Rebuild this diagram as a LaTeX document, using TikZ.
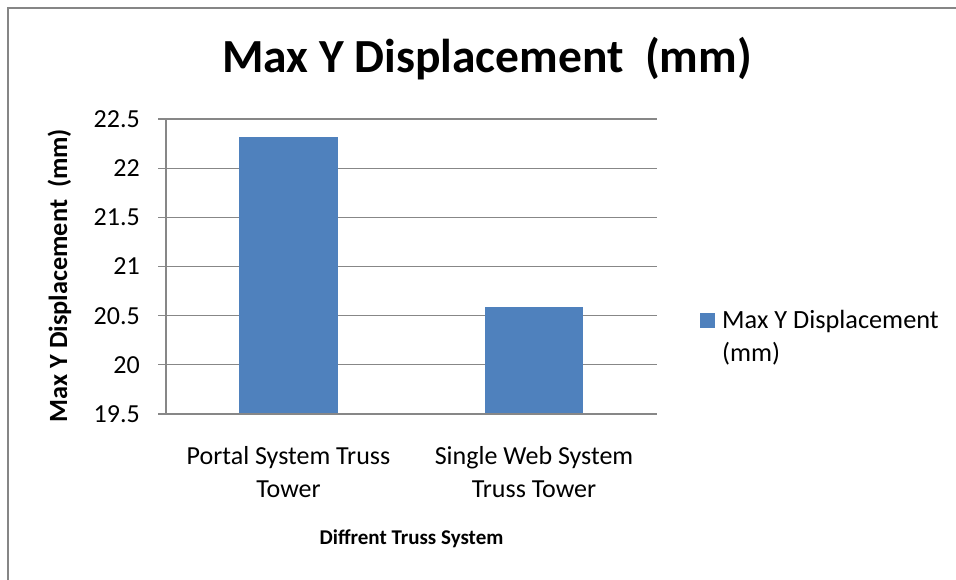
\documentclass[tikz,border=0pt]{standalone}
\usepackage{fontspec}
\setmainfont{Carlito}
\definecolor{barblue}{HTML}{4F81BD}
\definecolor{gridgray}{HTML}{878787}
\definecolor{framegray}{HTML}{868686}
\tikzset{
  gridline/.style={draw=gridgray, line width=1.3pt},
  framestyle/.style={draw=framegray, line width=1.5pt},
  barstyle/.style={fill=barblue, draw=none},
  ticklabel/.style={inner sep=0pt, font=\fontsize{26}{31}\selectfont},
  catlabel/.style={inner sep=0pt, anchor=base, font=\fontsize{26}{31}\selectfont},
  titlestyle/.style={inner sep=0pt, anchor=base, font=\fontsize{47.5}{57}\selectfont\bfseries},
  ytitle/.style={inner sep=0pt, anchor=base, rotate=90, font=\fontsize{26.3}{31}\selectfont\bfseries},
  xtitle/.style={inner sep=0pt, anchor=base, font=\fontsize{21}{25}\selectfont\bfseries},
  legendtext/.style={inner sep=0pt, anchor=base west, font=\fontsize{26.3}{31}\selectfont}
}
\begin{document}
\begin{tikzpicture}[x=1pt,y=-1pt]
\useasboundingbox (0,0) rectangle (956,580);
% outer chart frame (extends beyond the picture at right and bottom)
\draw[framestyle] (8,600) -- (8,8) -- (980,8);
% gridlines, ticks and tick labels
\foreach \v [count=\i] in {19.5,20,20.5,21,21.5,22,22.5} {
  \pgfmathsetmacro\yy{414-(\v-19.5)*98.333}
  \draw[gridline] (158,\yy) -- (657,\yy);
  \node[ticklabel, anchor=east] (tick\i) at (140,\yy) {\v};
}
% bars
\coordinate (b1bl) at (239,414);
\coordinate (b1tr) at (338,136.7);
\coordinate (b2bl) at (485,414);
\coordinate (b2tr) at (583,306.8);
\path[barstyle] (b1bl) rectangle (b1tr);
\path[barstyle] (b2bl) rectangle (b2tr);
% axes
\coordinate (ytop) at (166,119);
\coordinate (origin) at (166,414);
\coordinate (xend) at (657,414);
\draw[gridline] (ytop) -- (origin) -- (xend);
% title
\node[titlestyle] (title) at (487,73) {Max Y Displacement\ \ (mm)};
% axis titles
\node[ytitle] (ylab) at (67,275.5) {Max Y Displacement\ \ (mm)};
\node[xtitle] (xlab) at (411.5,544) {Diffrent Truss System};
% category labels
\node[catlabel] (c1a) at (288.5,464) {Portal System Truss};
\node[catlabel] (c1b) at (288.5,497) {Tower};
\node[catlabel] (c2a) at (534,464) {Single Web System};
\node[catlabel] (c2b) at (534,497) {Truss Tower};
% legend
\node[fill=barblue, minimum size=15pt, inner sep=0pt] (legkey) at (707.5,320.5) {};
\node[legendtext] (leg1) at (722,328) {Max Y Displacement};
\node[legendtext] (leg2) at (722,361.5) {(mm)};
\end{tikzpicture}
\end{document}
